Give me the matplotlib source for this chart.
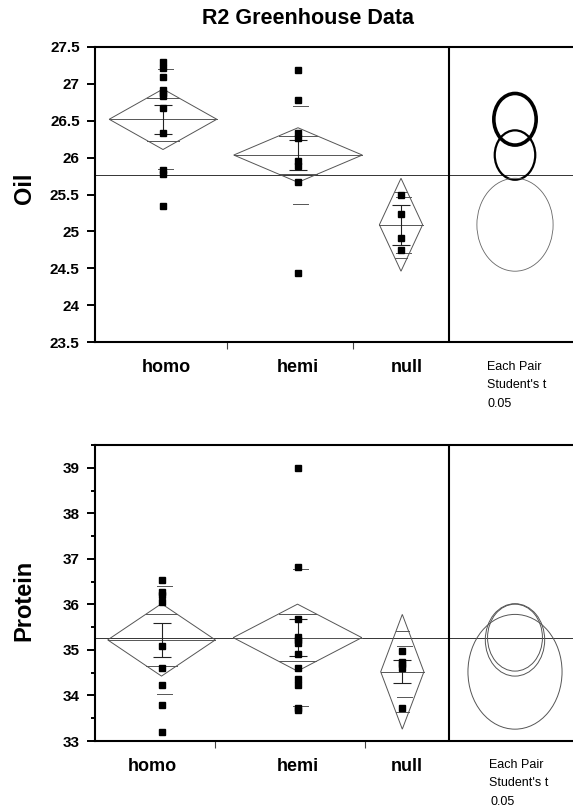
import matplotlib.pyplot as plt
from matplotlib.patches import Ellipse, Polygon
from matplotlib.ticker import MultipleLocator, FormatStrFormatter
import numpy as np

plt.rcParams['font.family'] = ['Liberation Sans', 'DejaVu Sans']

groups = ['homo', 'hemi', 'null']

# Oil data
oil_homo = [27.30, 27.22, 27.09, 26.92, 26.88, 26.84, 26.67, 26.34, 25.83, 25.78, 25.34]
oil_hemi = [27.19, 26.78, 26.33, 26.27, 25.95, 25.88, 25.67, 24.43]
oil_null = [25.49, 25.24, 24.91, 24.75]
oil_mean = [26.52, 26.035, 25.09]
oil_ci = [0.41, 0.37, 0.63]
oil_se = [0.20, 0.20, 0.27]
oil_sd = [0.68, 0.67, 0.38]
oil_circle_r = [0.35, 0.335, 0.63]
oil_grand = 25.76

# Protein data
prot_homo = [36.54, 36.28, 36.21, 36.06, 35.09, 34.61, 34.22, 33.79, 33.20]
prot_hemi = [39.0, 36.82, 35.67, 35.29, 35.21, 35.16, 34.91, 34.61, 34.37, 34.22, 33.72, 33.67]
prot_null = [34.98, 34.73, 34.68, 34.60, 33.73]
prot_mean = [35.22, 35.27, 34.52]
prot_ci = [0.795, 0.735, 1.26]
prot_se = [0.38, 0.41, 0.25]
prot_sd = [1.19, 1.5, 0.56]
prot_circle_r = [0.795, 0.735, 1.26]
prot_grand = 35.27

W, H = 573, 809
fig = plt.figure(figsize=(W / 100, H / 100), dpi=100)

AX_LEFT = 95
AX_W = 505          # runs past the right edge, like the original frame
DIVIDER = 354       # x of the vertical line between plot and circles
CIRCLE_X = 420
half_w = [53.8, 64.3, 21.6]
DCOL = '#555555'


def panel(top_px, bot_px, ylim, groups_vals, means, ci, se, sd, circ_r, grand,
          xpos, ticks, circ_styles):
    ax = fig.add_axes([AX_LEFT / W, 1 - bot_px / H, AX_W / W, (bot_px - top_px) / H])
    ax.set_xlim(0, AX_W)
    ax.set_ylim(*ylim)
    ppu = (bot_px - top_px) / (ylim[1] - ylim[0])

    ax.axhline(grand, color='#333333', lw=0.7, zorder=1)
    ax.axvline(DIVIDER, color='black', lw=1.5, zorder=5)

    for i, vals in enumerate(groups_vals):
        x, m, c, hw = xpos[i], means[i], ci[i], half_w[i]
        ax.add_patch(Polygon([[x - hw, m], [x, m + c], [x + hw, m], [x, m - c]],
                             closed=True, fill=False, ec=DCOL, lw=0.7, zorder=2))
        ax.plot([x - hw, x + hw], [m, m], color=DCOL, lw=0.7, zorder=2)
        k = 1 / np.sqrt(2)
        ow = hw * (1 - k)
        for s in (1, -1):
            ax.plot([x - ow, x + ow], [m + s * c * k] * 2, color=DCOL, lw=0.7, zorder=2)
            ax.plot([x - 5, x + 10], [m + s * sd[i]] * 2, color=DCOL, lw=0.7, zorder=2)
        ax.errorbar([x], [m], yerr=[se[i]], color='#222222', lw=0.8, capsize=6.5,
                    capthick=0.8, zorder=3)
        ax.plot([x] * len(vals), vals, 's', color='black', ms=4.2, zorder=4)

        lw, col = circ_styles[i]
        r = circ_r[i]
        ax.add_patch(Ellipse((CIRCLE_X, m), width=2 * r * ppu * 0.82, height=2 * r,
                             fill=False, ec=col, lw=lw, zorder=3))

    for sp in ('top', 'bottom', 'left'):
        ax.spines[sp].set_linewidth(1.5)
    ax.spines['right'].set_visible(False)
    ax.set_xticks(ticks)
    ax.set_xticklabels([])
    ax.tick_params(axis='x', direction='out', length=5, width=0.8, color='#444444')
    ax.tick_params(axis='y', direction='out', length=6, width=1.4, pad=5,
                   labelsize=11)
    return ax


ax1 = panel(47, 342, (23.5, 27.5), [oil_homo, oil_hemi, oil_null], oil_mean, oil_ci,
            oil_se, oil_sd, oil_circle_r, oil_grand, [68, 203, 306], [131.7, 258.3],
            [(2.6, 'black'), (1.6, 'black'), (0.6, '#666666')])
ax1.yaxis.set_major_locator(MultipleLocator(0.5))
ax1.yaxis.set_major_formatter(FormatStrFormatter('%g'))
for lab in ax1.get_yticklabels():
    lab.set_fontweight('bold')

ax2 = panel(445, 741, (33, 39.5), [prot_homo, prot_hemi, prot_null], prot_mean, prot_ci,
            prot_se, prot_sd, prot_circle_r, prot_grand, [66.5, 202.5, 307.3], [120, 270],
            [(0.7, '#555555'), (0.7, '#555555'), (0.7, '#555555')])
ax2.yaxis.set_major_locator(MultipleLocator(1))
ax2.yaxis.set_minor_locator(MultipleLocator(0.5))
ax2.yaxis.set_major_formatter(FormatStrFormatter('%g'))
ax2.tick_params(axis='y', which='minor', direction='out', length=3, width=1.4)
for lab in ax2.get_yticklabels():
    lab.set_fontweight('bold')


def ftext(x, y, s, **kw):
    fig.text(x / W, 1 - y / H, s, **kw)


ftext(308, 18, 'R2 Greenhouse Data', ha='center', va='center', fontsize=15.5,
      fontweight='bold')
ftext(24, 188, 'Oil', rotation=90, ha='center', va='center', fontsize=17,
      fontweight='bold')
ftext(24, 600, 'Protein', rotation=90, ha='center', va='center', fontsize=17,
      fontweight='bold')

for name, x in zip(groups, [166, 297.5, 406.7]):
    ftext(x, 372, name, ha='center', va='baseline', fontsize=13, fontweight='bold')
for name, x in zip(groups, [152, 298, 407]):
    ftext(x, 771, name, ha='center', va='baseline', fontsize=13, fontweight='bold')

for y0, x0 in ((370, 486.7), (768, 489)):
    ftext(x0, y0, 'Each Pair', ha='left', va='baseline', fontsize=9)
    ftext(x0, y0 + 18.5, "Student's t", ha='left', va='baseline', fontsize=9)
    ftext(x0 + 1, y0 + 37, '0.05', ha='left', va='baseline', fontsize=9)

fig.savefig('out.png', dpi=100)
